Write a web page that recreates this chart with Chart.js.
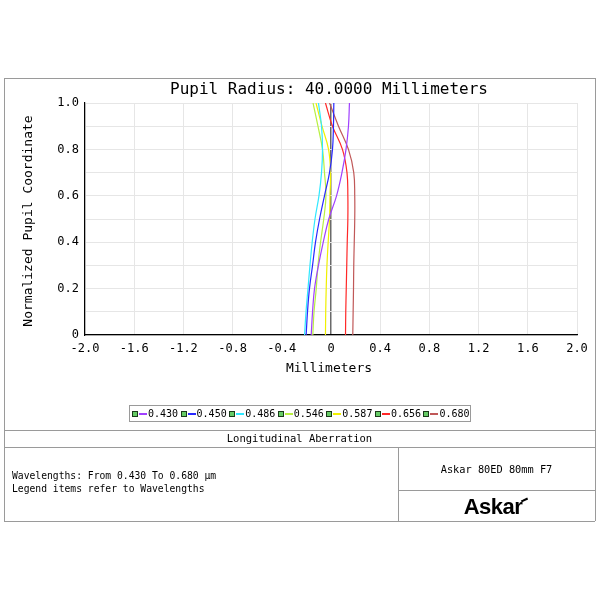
<!DOCTYPE html>
<html>
<head>
<meta charset="utf-8">
<script src="https://cdn.jsdelivr.net/npm/chart.js@4"></script>
<style>
  html, body { margin: 0; padding: 0; background: #fff; }
  #wrap { position: relative; width: 600px; height: 600px; overflow: hidden; font-family: "DejaVu Sans Mono", "Liberation Mono", monospace; color: #000; }
  #c { position: absolute; left: 0; top: 0; }
  .abs { position: absolute; }
  .hl { position: absolute; height: 0; border-top: 1px solid #9a9a9a; }
  .vl { position: absolute; width: 0; border-left: 1px solid #9a9a9a; }
  .txt { position: absolute; white-space: nowrap; line-height: 1; }
  #legend { position: absolute; left: 129px; top: 405px; width: 340px; height: 15px; border: 1px solid #9a9a9a; display: flex; align-items: center; font-size: 10px; }
  .item { display: flex; align-items: center; width: 48.6px; }
  .mk { display: inline-block; width: 4px; height: 4px; border: 1px solid #1a3a1a; background: #66cc66; margin-left: 2px; }
  .ln { display: inline-block; width: 8px; height: 0; border-top: 2px solid; margin: 0 1px; }
</style>
</head>
<body>
<div id="wrap">
  <canvas id="c" width="600" height="430"></canvas>

  <div class="hl" style="left:4px; top:78px; width:591px;"></div>
  <div class="hl" style="left:4px; top:521px; width:591px;"></div>
  <div class="vl" style="left:4px; top:78px; height:443px;"></div>
  <div class="vl" style="left:595px; top:78px; height:443px;"></div>
  <div class="hl" style="left:4px; top:430px; width:591px;"></div>
  <div class="hl" style="left:4px; top:447px; width:591px;"></div>
  <div class="vl" style="left:398px; top:447px; height:74px;"></div>
  <div class="hl" style="left:398px; top:490px; width:197px;"></div>

  <div class="txt" id="title" style="left:0; width:658px; text-align:center; top:81px; font-size:16px;">Pupil Radius: 40.0000 Millimeters</div>
  <div class="txt" style="left:0; width:658px; text-align:center; top:361px; font-size:13px;">Millimeters</div>
  <div class="txt" style="left:27px; top:221px; font-size:13px; transform: translate(-50%,-50%) rotate(-90deg);">Normalized Pupil Coordinate</div>

  <div id="legend"></div>

  <div class="txt" style="left:4px; width:591px; text-align:center; top:433px; font-size:10.5px;">Longitudinal Aberration</div>
  <div class="txt" style="left:12px; top:471px; font-size:9.7px;">Wavelengths: From 0.430 To 0.680 µm</div>
  <div class="txt" style="left:12px; top:484px; font-size:9.7px;">Legend items refer to Wavelengths</div>
  <div class="txt" style="left:398px; width:197px; text-align:center; top:464px; font-size:10.3px;">Askar 80ED 80mm F7</div>
  <div class="txt" style="left:398px; width:197px; text-align:center; top:496px; font-size:22px; font-weight:bold; font-family:'Liberation Sans', Arial, sans-serif; letter-spacing:-0.5px;">Askar<span style="display:inline-block; width:7px; height:2px; background:#000; transform: translate(-1px,-13px) rotate(-25deg);"></span></div>
</div>

<script>
// ---- data ----
const pupil = [0, 0.1, 0.2, 0.3, 0.4, 0.5, 0.6, 0.7, 0.8, 0.9, 1.0];
const wavelengths = ["0.430", "0.450", "0.486", "0.546", "0.587", "0.656", "0.680"];
const w430 = [-0.161, -0.150, -0.134, -0.102, -0.063, -0.018, 0.045, 0.089, 0.122, 0.142, 0.150];
const w450 = [-0.202, -0.191, -0.175, -0.150, -0.126, -0.093, -0.053, -0.012, 0.012, 0.020, 0.023];
const w486 = [-0.215, -0.203, -0.187, -0.171, -0.153, -0.130, -0.098, -0.077, -0.069, -0.077, -0.102];
const w546 = [-0.148, -0.138, -0.120, -0.106, -0.085, -0.059, -0.041, -0.053, -0.069, -0.106, -0.146];
const w587 = [-0.045, -0.043, -0.039, -0.033, -0.023, -0.012, -0.008, -0.004, -0.020, -0.073, -0.122];
const w656 = [0.118, 0.120, 0.124, 0.128, 0.132, 0.137, 0.137, 0.130, 0.093, 0.012, -0.045];
const w680 = [0.177, 0.180, 0.183, 0.185, 0.189, 0.193, 0.193, 0.185, 0.142, 0.061, -0.012];
const xTicks = [-2.0, -1.6, -1.2, -0.8, -0.4, 0, 0.4, 0.8, 1.2, 1.6, 2.0];
const yTicks = [0, 0.2, 0.4, 0.6, 0.8, 1.0];

const colors = ["#a040ff", "#2828ff", "#30e8ff", "#b8f040", "#f0f000", "#ff2828", "#c05858"];
const series = [w430, w450, w486, w546, w587, w656, w680];

// legend
const lg = document.getElementById('legend');
wavelengths.forEach((w, i) => {
  const it = document.createElement('div');
  it.className = 'item';
  it.innerHTML = '<span class="mk"></span><span class="ln" style="border-color:' + colors[i] + '"></span><span>' + w + '</span>';
  lg.appendChild(it);
});

const datasets = series.map((s, i) => ({
  label: wavelengths[i],
  data: s.map((v, k) => ({ x: v, y: pupil[k] })),
  borderColor: colors[i],
  backgroundColor: colors[i],
  borderWidth: 1.2,
  pointRadius: 0,
  showLine: true,
  fill: false,
  tension: 0.4
}));

new Chart(document.getElementById('c'), {
  type: 'scatter',
  data: { datasets },
  options: {
    responsive: false,
    animation: false,
    devicePixelRatio: 1,
    layout: { padding: { left: 0, right: 23, top: 103, bottom: 0 } },
    plugins: { legend: { display: false }, tooltip: { enabled: false }, title: { display: false } },
    scales: {
      x: {
        type: 'linear',
        min: -2, max: 2,
        afterBuildTicks: (s) => { s.ticks = xTicks.map(v => ({ value: v })); },
        afterFit: (s) => { s.height = 95; s.paddingLeft = 0; s.paddingRight = 0; },
        ticks: {
          color: '#000',
          padding: 7,
          maxRotation: 0,
          autoSkip: false,
          font: { family: 'DejaVu Sans Mono', size: 12 },
          callback: (v) => (Math.abs(v) < 1e-9 ? '0' : Number(v).toFixed(1))
        },
        grid: {
          drawTicks: false,
          color: (ctx) => (ctx.tick && Math.abs(ctx.tick.value) < 1e-9 ? '#6a6a6a' : '#e6e6e6'),
          lineWidth: (ctx) => (ctx.tick && Math.abs(ctx.tick.value) < 1e-9 ? 1.5 : 1)
        },
        border: { color: '#000', width: 1.2 }
      },
      y: {
        type: 'linear',
        min: 0, max: 1,
        afterBuildTicks: (s) => {
          const t = [];
          for (let k = 0; k <= 10; k++) t.push({ value: k / 10 });
          s.ticks = t;
        },
        afterFit: (s) => { s.width = 85; s.paddingTop = 0; s.paddingBottom = 0; },
        ticks: {
          color: '#000',
          padding: 6,
          autoSkip: false,
          font: { family: 'DejaVu Sans Mono', size: 12 },
          callback: (v) => {
            const k = Math.round(v * 10);
            if (k % 2 !== 0) return '';
            const yt = yTicks.find(t => Math.abs(t - v) < 1e-6);
            return yt === 0 ? '0' : yt.toFixed(1);
          }
        },
        grid: { drawTicks: false, color: '#e6e6e6' },
        border: { color: '#000', width: 1.2 }
      }
    }
  }
});
</script>
</body>
</html>
